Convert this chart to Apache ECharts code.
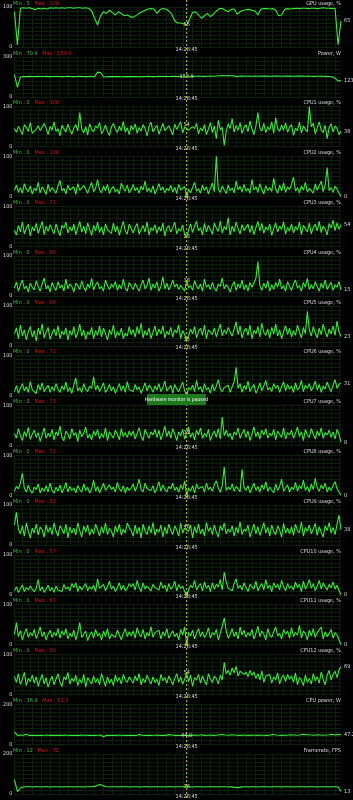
<!DOCTYPE html>
<html><head><meta charset="utf-8">
<script src="https://cdn.jsdelivr.net/npm/echarts@6/dist/echarts.min.js"></script>
<style>html,body{margin:0;padding:0;background:#000;}#c{width:353px;height:800px;}</style>
</head><body><div id="c"></div>
<script>
const titles = ['GPU usage, %','Power, W','CPU1 usage, %','CPU2 usage, %','CPU3 usage, %','CPU4 usage, %','CPU5 usage, %','CPU6 usage, %','CPU7 usage, %','CPU8 usage, %','CPU9 usage, %','CPU10 usage, %','CPU11 usage, %','CPU12 usage, %','CPU power, W','Framerate, FPS'];
const axisMax = [100,300,100,100,100,100,100,100,100,100,100,100,100,100,200,200];
const minText = ['5','70.9','0','0','0','0','0','0','0','0','0','0','0','0','36.9','12'];
const maxText = ['100','169.0','100','100','71','86','86','71','71','71','82','57','67','80','61.3','72'];
const cursorText = ['55','153.9','54','0','23','38','15','0','31','0','46','0','0','54','44.0','36'];
const endText = ['65','123.0','38','0','54','15','23','31','8','0','38','0','0','69','47.2','13'];
const cursorIndexByPanel = [58,58,87,87,87,87,87,87,87,87,87,87,87,87,58,58];
const timeLabel = '14:28:45';
const pausedText = 'Hardware monitor is paused';

const gpuUsage = [88,5,97,98,97,98,96,93,97,95, 97,95,98,97,98,97,98,97,98,98, 97,98,98,97,98,97,90,72,55,78, 88,84,92,86,80,88,84,78,80,76, 74,79,84,88,92,95,96,95,84,93, 96,95,90,82,65,60,60,58,55,70, 86,88,80,72,78,84,76,82,90,96, 96,92,88,94,95,82,88,92,93,94, 92,90,80,95,96,96,95,96,92,78, 80,94,96,95,96,97,96,97,97,96, 97,97,96,97,98,97,97,96,97,6, 65];
const power = [169,70.9,148,152,151,153,152,151,153,152, 152,153,151,152,153,152,151,152,153,152, 151,152,153,152,151,152,153,150,185,182, 148,150,152,151,152,151,150,151,152,151, 152,151,150,151,152,153,152,151,152,153, 152,153,152,154,153,152,153,154,153.9,154, 153,154,155,154,153,154,155,154,156,158, 159,158,160,158,157,150,156,155,154,155, 154,155,154,155,156,155,154,155,156,155, 154,155,156,155,154,155,156,155,154,155, 154,153,154,155,154,153,152,150,140,118, 123.0];
const cpu1 = [45,36,50,42,30,55,48,38,60,33, 28,44,52,40,35,58,46,30,50,41, 62,38,45,27,53,48,36,56,42,31, 47,55,39,85,44,34,50,29,57,43, 37,52,46,60,32,41,54,38,28,49, 58,44,35,51,40,63,36,47,30,53, 42,57,33,48,39,55,45,26,50,61, 37,46,53,31,44,58,40,35,52,47, 29,56,43,38,62,34,49,54,41,36, 50,45,58,32,47,39,55,30,44,60, 35,52,20,66,42,48,3,38,57,45, 70,36,53,41,60,33,48,55,37,64, 44,30,51,85,46,39,58,35,49,42, 62,33,72,45,38,54,41,59,36,48, 55,28,46,40,61,34,52,43,37,100, 50,58,32,47,62,41,35,54,20,48, 57,36,52,45,30,38];
const cpu2 = [15,28,10,22,8,32,18,12,26,6, 20,14,35,9,24,16,5,30,12,22, 18,8,26,40,14,20,6,28,16,11, 24,5,32,15,10,27,18,8,22,35, 12,20,42,16,9,26,14,30,7,19, 25,11,18,6,33,21,13,28,9,17, 30,14,22,8,26,16,38,12,20,10, 27,6,18,32,15,24,9,20,14,28, 11,23,7,30,16,12,25,0,18,9, 22,35,13,19,8,28,15,24,6,20, 33,12,100,18,10,26,16,7,29,14, 21,9,38,17,25,11,30,13,20,8, 42,16,24,10,32,18,6,27,15,22, 12,45,19,8,28,14,34,10,24,17, 30,48,13,22,9,26,16,35,11,20, 25,8,31,15,19,38,12,28,72,14, 22,10,26,18,8,0];
const cpu3 = [40,28,52,36,60,31,45,55,26,48, 38,57,32,46,62,29,50,37,54,42, 31,56,40,26,52,45,60,33,48,38, 55,29,46,62,35,50,31,58,42,27, 52,38,60,34,48,28,56,41,45,32, 58,36,50,27,46,62,38,30,55,44, 33,48,57,30,42,52,35,61,28,46, 40,54,32,49,37,58,26,45,51,35, 47,60,31,44,38,53,29,23,41,56, 34,50,62,39,46,28,57,36,52,42, 30,58,45,37,63,33,49,41,71,28, 50,36,60,44,31,54,39,47,55,34, 52,29,46,62,38,57,32,48,40,55, 27,44,58,35,50,42,61,30,47,38, 56,33,49,41,60,29,52,44,36,58, 31,47,55,38,62,34,50,43,28,57, 46,65,39,58,42,54];
const cpu4 = [20,35,12,28,40,18,25,10,32,22, 15,38,24,12,30,45,18,26,10,34, 22,14,36,20,28,12,42,18,30,24, 10,32,26,16,38,22,12,30,20,44, 15,28,35,18,24,12,40,26,16,30, 22,36,14,28,18,42,20,12,34,25, 16,32,22,12,28,40,18,26,45,14, 30,20,36,12,24,48,18,32,15,26, 40,22,30,16,27,28,12,38,20,26, 14,38,24,18,30,12,42,22,28,16, 34,20,12,30,24,45,18,28,22,10, 26,36,14,30,20,40,16,28,12,34, 22,18,44,86,26,14,32,20,38,12, 28,16,34,22,42,18,26,12,36,24, 14,30,40,20,26,12,34,22,44,16, 28,18,36,24,12,32,20,40,16,26, 34,14,28,22,36,15];
const cpu5 = [30,45,18,52,25,40,15,35,48,22, 38,12,44,28,55,20,34,46,16,30, 42,25,50,18,36,28,45,14,38,26, 48,20,32,54,24,40,16,35,28,46, 18,38,26,50,22,44,30,15,40,28, 52,20,36,26,44,18,32,24,48,28, 40,22,48,30,56,20,38,26,45,18, 34,50,25,42,30,50,20,36,28,46, 22,40,32,52,18,38,28,15,24,42, 30,48,20,36,44,26,52,18,40,34, 28,45,22,38,54,25,40,30,46,35, 24,42,60,28,50,20,36,44,26,52, 18,38,30,48,22,56,34,26,42,20, 46,30,54,24,40,18,36,50,28,44, 22,38,26,52,34,20,46,30,86,40, 24,48,32,20,44,28,54,36,22,42, 30,50,26,62,35,23];
const cpu6 = [10,25,6,18,30,12,22,8,35,15, 20,5,28,14,32,10,18,26,8,22, 12,30,16,8,24,14,34,10,20,6, 26,44,12,20,8,30,16,10,24,18, 47,14,26,10,20,32,8,16,28,12, 22,6,18,30,12,25,8,35,15,20, 10,28,14,22,6,18,32,12,26,20, 8,24,14,30,10,20,36,12,18,26, 6,28,16,10,22,34,12,0,20,14, 26,10,38,15,22,8,30,14,20,6, 28,12,24,40,16,10,20,18,26,8, 22,34,71,18,30,8,25,15,36,10, 20,28,6,16,32,12,24,38,14,20, 10,30,18,26,8,22,35,12,28,16, 24,8,32,14,20,38,10,26,18,30, 12,22,36,14,28,8,24,16,34,20, 10,26,40,18,28,31];
const cpu7 = [30,18,42,25,12,35,22,45,15,28, 38,20,32,10,26,44,18,30,22,40, 14,34,24,48,20,12,36,28,16,42, 25,32,10,38,22,30,46,18,28,14, 36,24,40,16,30,20,44,12,34,26, 18,38,28,14,42,22,32,20,36,24, 36,16,30,44,22,12,40,28,18,34, 26,40,20,38,14,30,48,22,36,18, 42,28,12,34,24,40,16,31,46,20, 32,14,38,26,44,18,30,22,40,12, 28,36,20,42,16,71,24,38,22,30, 14,34,26,44,18,30,40,20,36,12, 28,46,22,34,16,38,26,42,18,30, 24,40,14,36,28,20,44,16,32,26, 38,18,30,46,22,34,12,40,26,20, 42,28,16,36,24,44,18,32,26,38, 20,34,16,40,28,8];
const cpu8 = [10,22,16,30,55,18,8,25,12,5, 20,14,28,6,18,10,24,8,30,12, 5,20,10,26,6,16,32,8,22,12, 18,6,24,14,8,28,12,20,5,16, 38,10,22,6,18,30,12,8,26,14, 20,8,32,16,10,24,6,20,12,18, 28,10,22,40,14,8,30,16,20,12, 24,6,18,34,10,26,14,8,22,16, 30,12,20,8,26,14,36,0,18,10, 24,6,28,16,12,22,8,30,14,20, 10,26,36,18,8,24,71,12,20,14, 28,10,22,16,8,65,20,12,24,6, 18,30,12,22,8,26,14,34,10,20, 16,6,28,12,22,40,10,18,26,8, 20,14,32,10,24,16,38,12,22,8, 28,14,42,18,10,26,16,30,8,20, 12,24,34,16,8,0];
const cpu9 = [50,82,40,28,48,22,55,35,18,42, 30,52,25,45,38,20,50,32,44,26, 55,35,22,48,40,28,52,18,45,30, 42,25,55,36,20,48,32,50,24,40, 28,52,38,22,46,30,55,26,42,35, 20,48,32,52,25,40,30,55,44,36, 22,50,28,44,18,52,35,26,48,30, 56,24,40,32,50,20,45,28,52,36, 26,48,38,22,55,30,42,46,34,50, 18,46,30,52,28,40,22,56,34,44, 26,50,32,20,48,36,55,28,40,32, 48,22,44,30,58,26,40,34,50,20, 36,52,28,46,24,40,56,30,44,22, 50,34,26,48,38,20,54,30,42,28, 46,24,52,36,30,58,22,44,34,50, 28,40,54,24,46,32,20,48,36,56, 30,44,26,52,75,38];
const cpu10 = [10,20,6,15,25,8,18,12,22,14, 8,16,38,10,20,6,14,24,10,18, 6,22,12,16,8,26,14,20,10,28, 18,30,8,22,12,16,28,10,20,14, 24,8,40,16,12,26,10,20,34,14, 22,8,18,30,12,24,10,16,28,20, 28,12,36,18,8,30,14,22,16,10, 26,18,20,12,32,16,24,8,28,14, 20,34,10,26,16,22,8,0,12,24, 18,36,12,22,28,10,32,16,24,8, 30,14,26,20,38,12,57,32,16,20, 10,28,40,16,24,12,30,18,8,26, 22,14,34,10,20,28,12,38,16,24, 8,30,18,26,12,36,20,10,28,16, 22,12,32,18,26,8,34,14,24,38, 16,28,10,22,36,14,30,20,12,26, 18,32,14,24,10,0];
const cpu11 = [25,55,20,35,12,28,40,18,30,22, 38,15,28,44,20,32,12,26,36,18, 30,22,40,16,34,24,40,14,28,20, 36,12,30,55,18,26,34,10,24,32, 16,38,22,28,12,34,20,40,14,26, 30,18,36,24,12,28,40,20,32,22, 34,16,42,26,20,38,14,30,22,45, 18,30,28,36,14,32,22,40,16,26, 34,20,28,12,38,24,44,0,30,22, 36,14,28,40,20,32,18,26,42,16, 30,24,38,12,28,46,67,34,16,26, 40,20,32,14,44,24,36,18,30,22, 38,14,28,46,20,34,26,12,40,24, 18,32,44,22,28,14,38,26,34,16, 42,20,30,24,48,16,34,28,12,36, 22,40,18,30,26,44,14,32,20,28, 38,16,30,24,12,0];
const cpu12 = [45,30,52,25,38,55,22,40,32,48, 28,44,20,36,50,26,42,18,34,46, 24,38,52,30,20,44,36,55,26,40, 32,48,22,38,28,50,18,42,34,26, 46,30,40,24,52,36,20,44,28,38, 22,48,32,42,26,50,36,30,44,40, 28,46,34,52,24,40,30,48,36,26, 44,30,38,22,50,34,42,28,46,36, 24,40,52,30,44,26,38,54,32,48, 20,42,36,50,28,46,34,24,52,38, 30,46,40,26,48,36,80,52,60,48, 66,54,70,46,58,62,50,56,44,60, 48,56,40,52,36,58,30,46,42,50, 28,44,36,54,26,42,48,32,50,38, 46,30,54,24,42,36,22,48,30,40, 26,52,34,44,28,56,38,24,48,60, 36,50,58,42,62,69];
const cpuPower = [61.3,44,46,45,50,44,45,44,45,44, 45,46,44,45,44,45,44,46,45,44, 44,45,44,46,45,44,45,44,45,46, 36.9,45,44,45,44,46,45,44,45,44, 45,44,49,45,44,45,44,45,46,44, 45,44,48,46,44,45,44,45,44.0,45, 44,46,45,47,44,45,46,44,45,47, 48,46,45,47,46,45,44,46,45,44, 46,45,44,46,45,44,45,50,46,45, 44,46,45,47,46,45,46,50,48,47, 46,45,47,46,45,46,47,50,46,48, 47.2];
const framerate = [72,12,30,35,36,36,35,36,36,35, 36,36,35,36,36,36,35,36,36,36, 35,36,36,35,36,36,36,38,44,48, 40,36,35,36,36,35,36,36,36,35, 36,36,35,36,36,36,35,36,36,36, 35,36,36,36,35,36,36,36,36,36, 35,36,36,36,35,36,36,36,35,36, 36,36,35,36,33,32,33,36,36,35, 36,36,35,36,36,36,35,36,36,36, 35,36,36,36,35,36,36,36,35,36, 36,36,35,36,36,36,35,36,36,35, 13];

const panels = [gpuUsage, power, cpu1, cpu2, cpu3, cpu4, cpu5, cpu6, cpu7, cpu8, cpu9, cpu10, cpu11, cpu12, cpuPower, framerate];

const FONT = "'Liberation Sans Narrow','DejaVu Sans Condensed','Liberation Sans',sans-serif";
const FS = 5.5;
const TXT = '#d8d8d8';
const GRIDC = '#0a220a';
const LINEC = '#36ea36';
const PITCH = 49.8, TOP0 = 7, H = 40, LEFT = 13, RIGHT = 12;

const chart = echarts.init(document.getElementById('c'), null, {renderer: 'canvas'});
const grids = [], xAxes = [], yAxes = [], series = [], graphics = [];
panels.forEach((data, i) => {
  const top = TOP0 + PITCH * i;
  const mx = axisMax[i];
  const ci = cursorIndexByPanel[i];
  const dense = data.length > 130;
  grids.push({left: LEFT, right: RIGHT, top: top, height: H, show: true, backgroundColor: '#000', borderWidth: 0});
  xAxes.push({type: 'category', gridIndex: i, boundaryGap: false, data: data.map((_, k) => k),
    axisLine: {show: false}, axisTick: {show: false}, axisLabel: {show: false},
    splitLine: {show: true, interval: dense ? 3 : 2, lineStyle: {color: GRIDC, width: 1}}});
  yAxes.push({type: 'value', gridIndex: i, min: 0, max: mx, interval: mx / 10,
    axisLine: {show: false}, axisTick: {show: false},
    axisLabel: {color: TXT, fontSize: FS, fontFamily: FONT, margin: 2,
      formatter: v => (v === 0 || v === mx) ? String(v) : ''},
    splitLine: {show: true, lineStyle: {color: GRIDC, width: 1}}});
  series.push({type: 'line', xAxisIndex: i, yAxisIndex: i, data: data, showSymbol: false,
    lineStyle: {color: LINEC, width: 1.1}, itemStyle: {color: LINEC}, silent: true,
    endLabel: {show: true, formatter: endText[i], color: TXT, fontSize: FS, fontFamily: FONT, distance: 3},
    markPoint: {symbol: 'circle', symbolSize: 0, silent: true, animation: false,
      data: [{coord: [ci, data[ci]], value: cursorText[i],
        label: {show: true, position: 'inside', formatter: cursorText[i], color: TXT, fontSize: FS, fontFamily: FONT}}]}
  });
  graphics.push({type: 'text', id: 'mm' + i, x: LEFT, y: top - 3.7, z: 10,
    style: {text: '{g|Min : ' + minText[i] + '}   {r|Max : ' + maxText[i] + '}',
      rich: {g: {fill: '#3cc03c', fontSize: FS, fontFamily: FONT}, r: {fill: '#d81818', fontSize: FS, fontFamily: FONT}},
      fontSize: FS, fontFamily: FONT, verticalAlign: 'middle', align: 'left'}});
  graphics.push({type: 'text', id: 'tt' + i, x: 353 - RIGHT, y: top - 3.7, z: 10,
    style: {text: titles[i], fill: TXT, fontSize: FS, fontFamily: FONT, verticalAlign: 'middle', align: 'right'}});
});

chart.setOption({backgroundColor: '#000', animation: false, grid: grids, xAxis: xAxes, yAxis: yAxes, series: series, graphic: graphics});

const cx = chart.convertToPixel({xAxisIndex: 0}, cursorIndexByPanel[0]);
const extra = [
  {type: 'line', id: 'cursor', z: 20, shape: {x1: cx, y1: 0, x2: cx, y2: 800},
    style: {stroke: '#c8c800', lineWidth: 1, lineDash: [2, 2]}},
  {type: 'rect', id: 'pausedBox', z: 30, shape: {x: 147, y: 394, width: 59, height: 11}, style: {fill: '#1c7a1c'}},
  {type: 'text', id: 'pausedText', z: 31, x: 176.5, y: 399.5,
    style: {text: pausedText, fill: '#ffffff', fontSize: 5, fontFamily: FONT, align: 'center', verticalAlign: 'middle'}}
];
panels.forEach((data, i) => {
  const top = TOP0 + PITCH * i;
  extra.push({type: 'text', id: 'time' + i, z: 25, x: cx, y: top + H + 2.2,
    style: {text: timeLabel, fill: TXT, fontSize: FS, fontFamily: FONT, align: 'center', verticalAlign: 'middle'}});
});
chart.setOption({graphic: extra});
</script>
</body></html>
